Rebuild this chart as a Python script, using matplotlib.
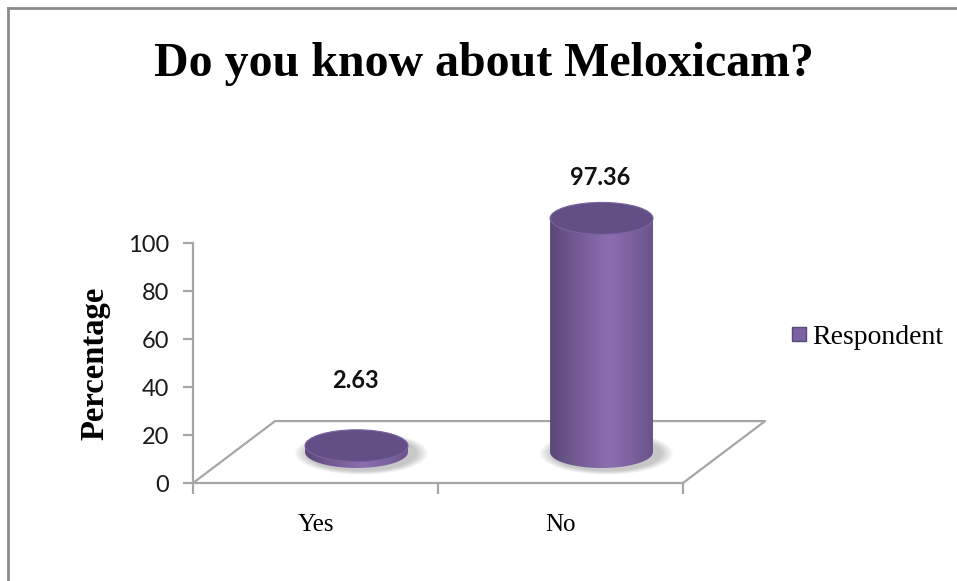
import numpy as np
import matplotlib
matplotlib.use("Agg")
import matplotlib.pyplot as plt
from matplotlib.patches import Ellipse, PathPatch
from matplotlib.path import Path
from matplotlib.lines import Line2D

# data
categories = ["Yes", "No"]
values = [2.63, 97.36]
series_name = "Respondent"
y_ticks = [0, 20, 40, 60, 80, 100]

TITLE = "Do you know about Meloxicam?"
YLABEL = "Percentage"

# 3d look (data units)
DEPTH_X = 0.335   # floor depth, x shift
DEPTH_Y = 25.8    # floor depth, y shift
CYL_W = 0.42      # cylinder width
CYL_EH = 13.3     # ellipse height

GRAY = "#a6a6a6"
DARK = np.array([0x58, 0x45, 0x75]) / 255
LIGHT = np.array([0x8c, 0x6e, 0xaf]) / 255
TOP = "#634e85"


def cyl_gradient(n=200):
    t = np.linspace(0, 1, n)
    k = np.clip(1 - np.abs(t - 0.58) / 0.58, 0, 1) ** 0.8
    return (DARK[None, :] * (1 - k[:, None]) + LIGHT[None, :] * k[:, None])[None, :, :]


def draw_shadow(ax, cx, cy):
    for i in range(8):
        s = 1.0 + 0.03 * (8 - i)
        ax.add_patch(Ellipse((cx + 0.02, cy - 0.5), CYL_W * s * 1.04, CYL_EH * s * 1.08,
                             color="#404040", alpha=0.04, lw=0, zorder=2))


def draw_cylinder(ax, cx, base, h):
    top = base + h
    half_w = CYL_W / 2
    # body path: left side, front half of bottom ellipse, right side
    th = np.linspace(np.pi, 2 * np.pi, 60)
    xs = cx + half_w * np.cos(th)
    ys = base + CYL_EH / 2 * np.sin(th)
    verts = [(cx - half_w, top)] + list(zip(xs, ys)) + [(cx + half_w, top), (cx - half_w, top)]
    codes = [Path.MOVETO] + [Path.LINETO] * (len(verts) - 2) + [Path.CLOSEPOLY]
    body = PathPatch(Path(verts, codes), facecolor="none", edgecolor="none", zorder=3,
                     clip_on=False)
    ax.add_patch(body)
    im = ax.imshow(cyl_gradient(), extent=[cx - half_w, cx + half_w, base - CYL_EH, top],
                   aspect="auto", zorder=3, interpolation="bilinear")
    im.set_clip_path(body)
    im.set_clip_box(fig.bbox)
    ax.add_patch(Ellipse((cx, top), CYL_W, CYL_EH, facecolor=TOP,
                         edgecolor="#7a64a0", lw=0.8, zorder=4, clip_on=False))


fig = plt.figure(figsize=(9.57, 5.81), dpi=100)
ax = fig.add_axes([193 / 957, 98 / 581, 490 / 957, 240 / 581])

n = len(categories)
ax.set_xlim(0, n)
ax.set_ylim(0, 100)

# floor
fx = [0, DEPTH_X, n + DEPTH_X, n]
fy = [0, DEPTH_Y, DEPTH_Y, 0]
ax.plot(fx, fy, color=GRAY, lw=1.6, clip_on=False, zorder=1)

for i, v in enumerate(values):
    cx = i + 0.5 + DEPTH_X / 2
    base = DEPTH_Y / 2
    draw_shadow(ax, cx, base)
    draw_cylinder(ax, cx, base, v)
    # data labels (short bars get lifted above the floor)
    ly = max(base + v + 17, 42.5)
    ax.text(cx - 0.005, ly, f"{v:.2f}", ha="center", va="center", clip_on=False,
            fontsize=17, fontweight="bold", family="Lato", color="#111111")

ax.set_xlim(0, n)
ax.set_ylim(0, 100)

# axes
for s in ["top", "right"]:
    ax.spines[s].set_visible(False)
ax.spines["left"].set_color(GRAY)
ax.spines["left"].set_linewidth(1.6)
ax.spines["bottom"].set_color(GRAY)
ax.spines["bottom"].set_linewidth(1.6)
ax.set_yticks(y_ticks)
ax.set_yticklabels([str(t) for t in y_ticks], family="Lato", fontsize=17, color="#1a1a1a")
ax.set_xticks(range(n + 1))
ax.set_xticklabels([])
ax.set_xticks([i + 0.5 for i in range(n)], minor=True)
ax.set_xticklabels(categories, minor=True, family="Liberation Serif", fontsize=18)
ax.tick_params(axis="y", length=7, width=1.6, color=GRAY, pad=10)
ax.tick_params(axis="x", which="major", length=8, width=1.6, color=GRAY)
ax.tick_params(axis="x", which="minor", length=0, pad=22)
ax.set_ylabel(YLABEL, family="Liberation Serif", fontsize=23.5, fontweight="bold", labelpad=13)

# legend
handle = Line2D([], [], marker="s", color="none", markerfacecolor="#7b62a3",
                markeredgecolor="#5a4878", markersize=9.5, lw=0)
fig.legend([handle], [series_name], loc="center left", bbox_to_anchor=(766 / 957, 1 - 337 / 581),
           frameon=False, handlelength=0.55, handletextpad=0.2,
           prop={"family": "Liberation Serif", "size": 20})

fig.text(484 / 957, 1 - 64 / 581, TITLE, ha="center", va="center",
         family="Liberation Serif", fontweight="bold", fontsize=34.5)

# chart border (top and left only visible)
fig.add_artist(Line2D([8 / 957, 8 / 957], [0, 1 - 8 / 581], color="#8c8c8c", lw=2,
                      transform=fig.transFigure))
fig.add_artist(Line2D([8 / 957, 1], [1 - 8 / 581, 1 - 8 / 581], color="#8c8c8c", lw=2,
                      transform=fig.transFigure))

fig.savefig("out.png", dpi=100)
